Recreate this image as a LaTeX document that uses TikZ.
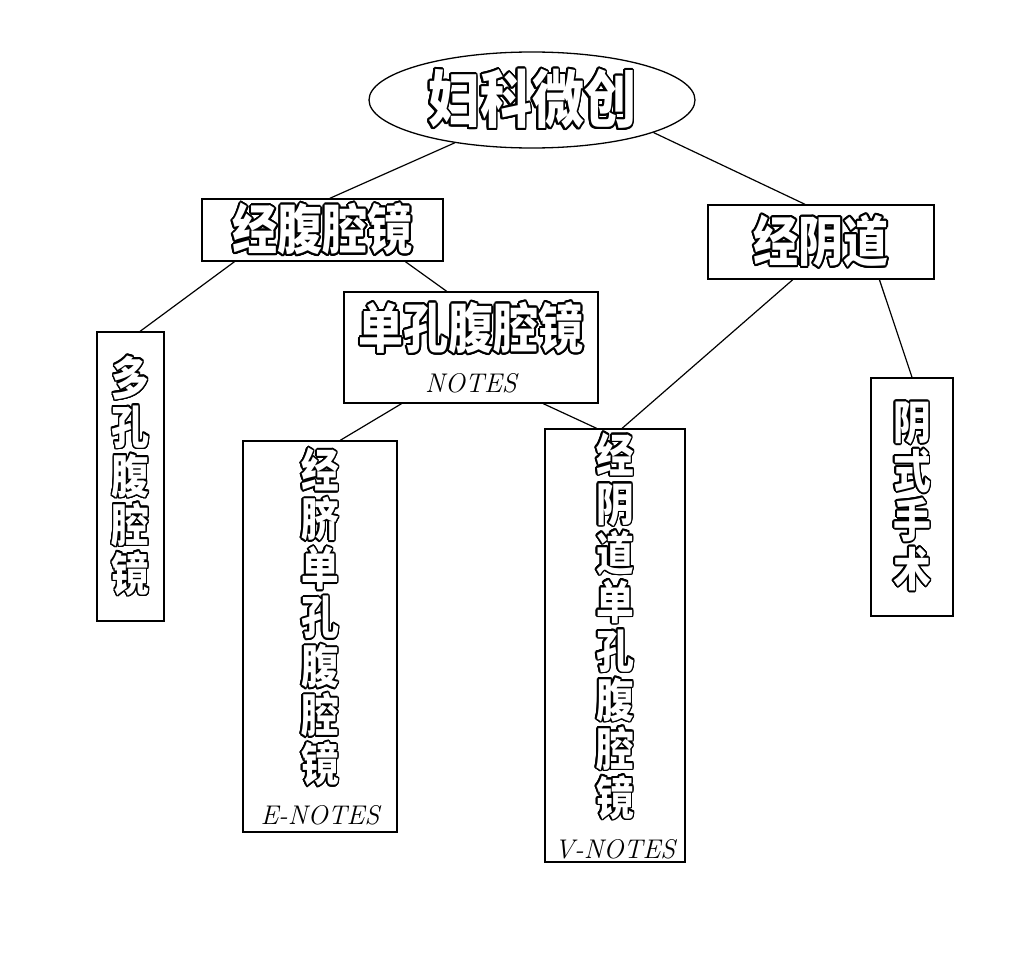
\documentclass[tikz,border=0pt]{standalone}
\usepackage{fontspec}
\usepackage{contour}
\usetikzlibrary{shapes.geometric,calc}
\newfontfamily\cjk[BoldFont={Noto Sans CJK SC Black}]{Noto Sans CJK SC}
\contourlength{1.6pt}
\contournumber{24}
\newcommand\hol[1]{{\color{white}\contour{black}{#1}}}
\newcommand\hz[1]{\scalebox{1}[1.2]{\hol{#1}}}
\newcommand\vc[1]{\scalebox{0.82}[1]{\hol{#1}}}
\tikzset{
  box/.style={draw=black, line width=1.3pt, rectangle, inner sep=0pt, align=center},
  link/.style={draw=black, line width=1.2pt},
  big/.style={font=\cjk\bfseries\fontsize{52}{56}\selectfont},
  mid/.style={font=\cjk\bfseries\fontsize{45}{50}\selectfont},
  vert/.style={font=\cjk\bfseries\fontsize{46}{49}\selectfont},
}
\newcommand\lat[1]{{\rmfamily\mdseries\itshape\fontsize{27}{30}\selectfont #1}}
\begin{document}
\begin{tikzpicture}[x=1pt,y=-1pt]
\useasboundingbox[fill=white] (0,0) rectangle (1030,963);
\node[draw=black, line width=1.3pt, ellipse, minimum width=326pt, minimum height=96pt, inner sep=0pt, big] (root) at (532,100) {\hz{妇科微创}};
\node[box, mid, minimum width=241pt, minimum height=62pt] (lap) at (322.5,230) {\hz{经腹腔镜}};
\node[box, mid, minimum width=226pt, minimum height=74pt] (vag) at (821,242) {\hz{经阴道}};
\node[box, mid, minimum width=254pt, minimum height=111pt] (sp) at (471,347.5) {\hz{单孔腹腔镜}\\[-6pt]\lat{NOTES}};
\node[box, vert, minimum width=67pt, minimum height=289pt] (multi) at (130.5,476.5) {\vc{多}\\\vc{孔}\\\vc{腹}\\\vc{腔}\\\vc{镜}};
\node[box, vert, minimum width=154pt, minimum height=391pt] (enotes) at (320,636.5) {\vc{经}\\\vc{脐}\\\vc{单}\\\vc{孔}\\\vc{腹}\\\vc{腔}\\\vc{镜}\\[-6pt]\lat{E-NOTES}};
\node[box, vert, minimum width=140pt, minimum height=433pt] (vnotes) at (615,645.5) {\vc{经}\\\vc{阴}\\\vc{道}\\\vc{单}\\\vc{孔}\\\vc{腹}\\\vc{腔}\\\vc{镜}\\[-6pt]\lat{V-NOTES}};
\node[box, vert, minimum width=82pt, minimum height=238pt] (vs) at (912,497) {\vc{阴}\\\vc{式}\\\vc{手}\\\vc{术}};
\draw[link] (root.209) -- ($(lap.north west)!0.53!(lap.north east)$);
\draw[link] (root.-15) -- ($(vag.north west)!0.43!(vag.north east)$);
\draw[link] ($(lap.south west)!0.137!(lap.south east)$) -- ($(multi.north west)!0.64!(multi.north east)$);
\draw[link] ($(lap.south west)!0.842!(lap.south east)$) -- ($(sp.north west)!0.405!(sp.north east)$);
\draw[link] ($(sp.south west)!0.228!(sp.south east)$) -- ($(enotes.north west)!0.63!(enotes.north east)$);
\draw[link] ($(sp.south west)!0.783!(sp.south east)$) -- ($(vnotes.north west)!0.37!(vnotes.north east)$);
\draw[link] ($(vag.south west)!0.376!(vag.south east)$) -- ($(vnotes.north west)!0.55!(vnotes.north east)$);
\draw[link] ($(vag.south west)!0.757!(vag.south east)$) -- ($(vs.north west)!0.5!(vs.north east)$);
\end{tikzpicture}
\end{document}
